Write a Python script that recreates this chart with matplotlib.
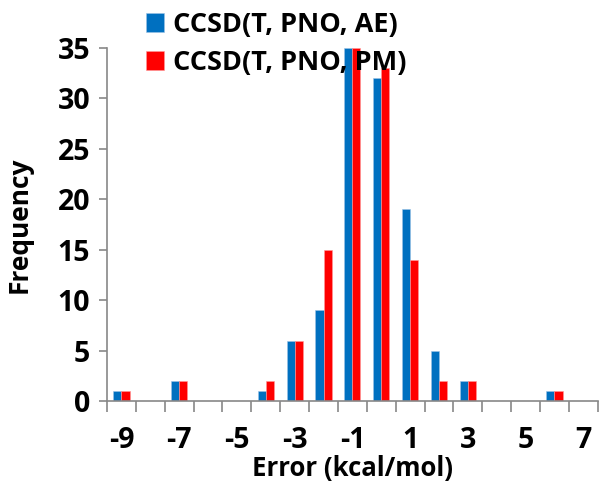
import matplotlib
matplotlib.use("Agg")
import matplotlib.pyplot as plt
import numpy as np

# Error bins (kcal/mol) and counts for the two PNO variants
error_bins = list(range(-9, 8))
counts_ae = [1, 0, 2, 0, 0, 1, 6, 9, 35, 32, 19, 5, 2, 0, 0, 1, 0]
counts_pm = [1, 0, 2, 0, 0, 2, 6, 15, 35, 33, 14, 2, 2, 0, 0, 1, 0]
series_names = ["CCSD(T, PNO, AE)", "CCSD(T, PNO, PM)"]
tick_values = [-9, -7, -5, -3, -1, 1, 3, 5, 7]

plt.rcParams["font.family"] = ["Open Sans", "DejaVu Sans"]
plt.rcParams["font.weight"] = "bold"

fig = plt.figure(figsize=(5.99, 4.82), dpi=100)
ax = fig.add_axes([0.1786, 0.168, 0.8194, 0.7324])

x = np.array(error_bins, dtype=float)
w = 0.28
ax.bar(x - w / 2, counts_ae, width=w, color="#0070C0", label=series_names[0],
       edgecolor="#9DC3E6", linewidth=0.4)
ax.bar(x + w / 2, counts_pm, width=w, color="#FF0000", label=series_names[1],
       edgecolor="#FF9999", linewidth=0.4)

ax.set_xlim(error_bins[0] - 0.5, error_bins[-1] + 0.5)
ax.set_ylim(0, 35)
ax.set_yticks(range(0, 36, 5))

# category boundaries carry the tick marks; labels sit on every other bin
ax.set_xticks(np.arange(error_bins[0] - 0.5, error_bins[-1] + 1.0, 1.0))
ax.set_xticklabels([])
ax.set_xticks(tick_values, minor=True)
ax.set_xticklabels([str(v) for v in tick_values], minor=True)
ax.tick_params(axis="x", which="major", length=8, width=1.2, color="#888888", direction="out")
ax.tick_params(axis="x", which="minor", length=0, labelsize=20.5, pad=18)
ax.tick_params(axis="y", length=6, width=1.2, color="#888888", labelsize=20.5, pad=6)

for side in ("top", "right"):
    ax.spines[side].set_visible(False)
for side in ("left", "bottom"):
    ax.spines[side].set_color("#888888")
    ax.spines[side].set_linewidth(1.2)

ax.set_xlabel("Error (kcal/mol)", fontsize=18.5, fontweight="bold", labelpad=0)
ax.set_ylabel("Frequency", fontsize=19, fontweight="bold", labelpad=18)

leg = ax.legend(loc="upper left", bbox_to_anchor=(146 / 599, 1 - 12 / 482),
                bbox_transform=fig.transFigure, frameon=False,
                prop={"size": 19.5, "weight": "bold"}, handlelength=0.68,
                handleheight=0.68, handletextpad=0.3, labelspacing=0.45,
                borderpad=0, borderaxespad=0)

fig.savefig("out.png", dpi=100)
